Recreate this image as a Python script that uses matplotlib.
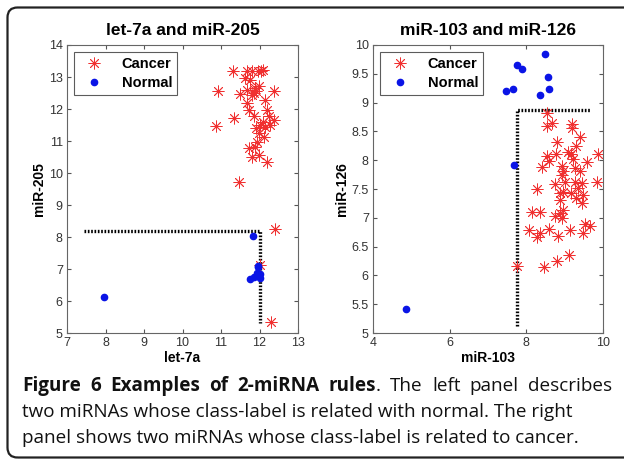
import numpy as np
import matplotlib
matplotlib.use('Agg')
import matplotlib.pyplot as plt
from matplotlib.patches import FancyBboxPatch

# let-7a vs miR-205
L_CANCER_X = [11.30, 11.68, 11.80, 11.95, 12.05, 12.10, 11.63, 11.74, 10.91, 12.37,
              11.48, 11.68, 11.80, 11.89, 11.98, 11.85, 12.15, 11.68, 11.72, 12.19,
              11.35, 10.88, 11.85, 12.24, 12.37, 12.02, 12.15, 12.28, 11.98, 12.11,
              11.93, 11.89, 11.72, 11.80, 11.98, 12.19, 11.46, 12.39, 12.30, 12.00,
              11.90, 12.08, 11.92]
L_CANCER_Y = [13.20, 13.20, 13.20, 13.20, 13.20, 13.22, 12.97, 12.91, 12.57, 12.57,
              12.48, 12.60, 12.44, 12.65, 12.73, 12.50, 12.29, 12.18, 11.97, 11.97,
              11.71, 11.47, 11.77, 11.77, 11.66, 11.50, 11.45, 11.50, 11.24, 11.14,
              10.98, 10.82, 10.77, 10.51, 10.57, 10.33, 9.72, 8.26, 5.35, 7.12,
              12.55, 11.60, 11.40]
L_NORMAL_X = [7.96, 11.82, 11.95, 11.74, 11.85, 11.93, 12.00, 12.00, 11.97]
L_NORMAL_Y = [6.13, 8.04, 7.07, 6.70, 6.76, 6.86, 6.73, 6.85, 7.10]
L_RULE_X = [7.43, 12.00, 12.00]
L_RULE_Y = [8.18, 8.18, 5.32]

# miR-103 vs miR-126
R_CANCER_X = [8.54, 8.55, 8.68, 9.20, 9.20, 9.39, 8.80, 9.29, 9.10, 9.16,
              9.88, 8.53, 8.77, 8.58, 9.22, 9.59, 8.41, 8.92, 8.95, 9.26,
              9.39, 8.92, 9.00, 9.26, 9.85, 8.74, 8.29, 9.46, 9.35, 9.16,
              8.89, 8.96, 9.48, 9.29, 8.87, 9.44, 8.96, 8.16, 8.35, 8.74,
              8.94, 8.87, 8.08, 8.35, 8.29, 8.60, 8.83, 9.13, 9.54, 9.67,
              9.49, 9.11, 8.79, 8.47, 7.75]
R_CANCER_Y = [8.82, 8.60, 8.65, 8.62, 8.56, 8.41, 8.31, 8.25, 8.15, 8.11,
              8.10, 8.07, 8.11, 7.98, 8.02, 7.97, 7.89, 7.90, 7.82, 7.86,
              7.82, 7.75, 7.63, 7.63, 7.63, 7.58, 7.50, 7.60, 7.51, 7.43,
              7.43, 7.45, 7.40, 7.34, 7.31, 7.25, 7.14, 7.10, 7.10, 7.03,
              6.99, 7.08, 6.78, 6.73, 6.66, 6.80, 6.68, 6.79, 6.89, 6.86,
              6.74, 6.35, 6.25, 6.15, 6.16]
R_NORMAL_X = [4.86, 7.46, 7.66, 7.76, 7.89, 8.35, 8.50, 8.57, 8.60, 7.68]
R_NORMAL_Y = [5.41, 9.20, 9.24, 9.65, 9.59, 9.14, 9.85, 9.44, 9.23, 7.92]
R_RULE_X = [7.75, 7.75, 9.65]
R_RULE_Y = [5.12, 8.88, 8.88]

CAPTION_1 = [[('Figure', 'bold')], [('6', 'bold')], [('Examples', 'bold')],
             [('of', 'bold')], [('2-miRNA', 'bold')], [('rules', 'bold'), ('.', 'normal')],
             [('The', 'normal')], [('left', 'normal')], [('panel', 'normal')],
             [('describes', 'normal')]]
CAPTION_2 = 'two miRNAs whose class-label is related with normal. The right'
CAPTION_3 = 'panel shows two miRNAs whose class-label is related to cancer.'

RED = '#f03030'
BLUE = '#0a14e6'
ASTERISK = (8, 2, 0)


def draw_panel(ax, cx, cy, nx, ny, rx, ry, title, xlabel, ylabel):
    ax.plot(rx, ry, color='black', lw=2.4, ls=(0, (0.5, 0.5)), zorder=1)
    ax.plot(cx, cy, ls='none', marker=ASTERISK, ms=8.5, mew=0.6,
            color=RED, label='Cancer', zorder=2)
    ax.plot(nx, ny, ls='none', marker='o', ms=4.5, color=BLUE,
            label='Normal', zorder=3)
    ax.set_title(title, fontsize=12.5, fontweight='bold', pad=7)
    ax.set_xlabel(xlabel, fontsize=10, fontweight='bold', labelpad=1)
    ax.set_ylabel(ylabel, fontsize=10, fontweight='bold', labelpad=2)
    ax.tick_params(direction='in', top=True, right=True, length=3,
                   labelsize=9, labelcolor='#333333', color='#555555', pad=3)
    for s in ax.spines.values():
        s.set_color('#666666')
        s.set_linewidth(0.8)
    leg = ax.legend(loc='upper left', fontsize=10.5, frameon=True, fancybox=False,
                    edgecolor='#333333', borderaxespad=0.5, handletextpad=0.9,
                    borderpad=0.35, labelspacing=0.3, handlelength=2.0)
    leg.get_frame().set_linewidth(0.8)
    for t in leg.get_texts():
        t.set_fontweight('bold')


def main():
    plt.rcParams['font.family'] = ['Liberation Sans', 'DejaVu Sans']
    fig = plt.figure(figsize=(6.24, 4.62), dpi=100)

    ax1 = fig.add_axes([0.1074, 0.2792, 0.3702, 0.6234])
    draw_panel(ax1, L_CANCER_X, L_CANCER_Y, L_NORMAL_X, L_NORMAL_Y,
               L_RULE_X, L_RULE_Y, 'let-7a and miR-205', 'let-7a', 'miR-205')
    ax1.set_xlim(7, 13)
    ax1.set_ylim(5, 14)
    ax1.set_xticks(range(7, 14))
    ax1.set_yticks(range(5, 15))

    ax2 = fig.add_axes([0.5978, 0.2792, 0.3685, 0.6234])
    draw_panel(ax2, R_CANCER_X, R_CANCER_Y, R_NORMAL_X, R_NORMAL_Y,
               R_RULE_X, R_RULE_Y, 'miR-103 and miR-126', 'miR-103', 'miR-126')
    ax2.set_xlim(4, 10)
    ax2.set_ylim(5, 10)
    ax2.set_xticks([4, 6, 8, 10])
    ax2.set_yticks(np.arange(5, 10.01, 0.5))
    ax2.set_yticklabels(['5', '5.5', '6', '6.5', '7', '7.5', '8', '8.5',
                         '9', '9.5', '10'])

    # rounded frame around the whole figure, in pixels
    frame = FancyBboxPatch((7.5, 4.5), 640, 450,
                           boxstyle='round,pad=0,rounding_size=10',
                           transform=None, fill=False, lw=1.6,
                           edgecolor='#222222')
    fig.patches.append(frame)

    cap = dict(family=['Open Sans', 'DejaVu Sans'], fontsize=13.6,
               color='#111111', va='baseline')
    W = fig.bbox.width
    fig.canvas.draw()
    r = fig.canvas.get_renderer()

    # first caption line is justified between x=22 and x=612 px
    y1 = 1 - 391 / 462
    words = []
    for chunks in CAPTION_1:
        parts = []
        for s, w in chunks:
            t = fig.text(0, y1, s, fontweight=w, **cap)
            parts.append((t, t.get_window_extent(r).width))
        words.append(parts)
    widths = [sum(p[1] for p in parts) for parts in words]
    gap = (612 - 22 - sum(widths)) / (len(words) - 1)
    x = 22.0
    for parts, wd in zip(words, widths):
        xx = x
        for t, pw in parts:
            t.set_x(xx / W)
            xx += pw
        x += wd + gap

    fig.text(22 / 624, 1 - 417 / 462, CAPTION_2, **cap)
    fig.text(22 / 624, 1 - 443 / 462, CAPTION_3, **cap)

    fig.savefig('out.png', dpi=100)


if __name__ == '__main__':
    main()
